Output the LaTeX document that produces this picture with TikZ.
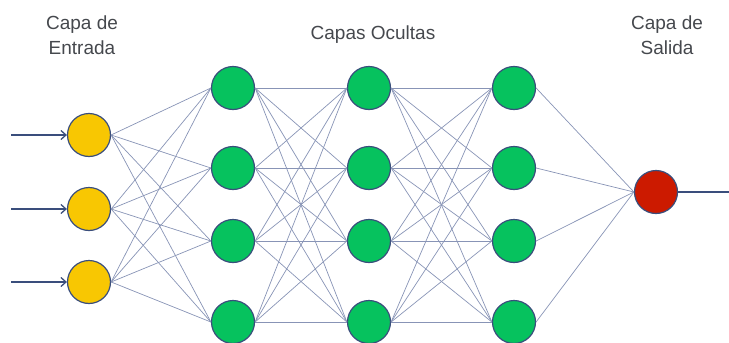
\documentclass[tikz,border=0pt]{standalone}
\usepackage{fontspec}
\setmainfont{Liberation Sans}
\usetikzlibrary{arrows.meta, positioning}
\definecolor{inyellow}{HTML}{F8C702}
\definecolor{hidgreen}{HTML}{06C25E}
\definecolor{outred}{HTML}{CC1A00}
\definecolor{rim}{HTML}{3A4E7C}
\definecolor{wire}{HTML}{8894B6}
\definecolor{labelgray}{HTML}{45484D}
\tikzset{
  neuron/.style={
    circle, draw=rim, line width=1.2pt, minimum size=43pt, inner sep=0pt
  },
  input/.style={neuron, fill=inyellow},
  hidden/.style={neuron, fill=hidgreen},
  output/.style={neuron, fill=outred},
  link/.style={draw=wire, line width=0.7pt},
  feed/.style={-{Straight Barb[length=5pt,width=9pt]}, draw=rim, line width=1.3pt},
  title/.style={font=\fontsize{19}{25}\selectfont, text=labelgray, align=center}
}

\begin{document}
\begin{tikzpicture}[x=1pt, y=-1pt]
    \useasboundingbox (0,0) rectangle (729,343);
    \node[title] (intitle) at (82,35) {Capa de\\Entrada};
    \node[title] (hidtitle) at (373,35) {Capas Ocultas};
    \node[title] (outtitle) at (667,35) {Capa de\\Salida};
    % layers
    \foreach \i/\y in {1/135, 2/209, 3/282}
      \node[input] (in\i) at (89,\y) {};
    \foreach \l/\x in {1/233, 2/369, 3/514}
      \foreach \i/\y in {1/88, 2/168, 3/241, 4/322}
        \node[hidden] (h\l\i) at (\x,\y) {};
    \node[output] (out) at (656,192) {};
    % connections
    \foreach \i in {1,...,3}
      \foreach \j in {1,...,4}
        \draw[link] (in\i.east) -- (h1\j.west);
    \foreach \l/\m in {1/2, 2/3}
      \foreach \i in {1,...,4}
        \foreach \j in {1,...,4}
          \draw[link] (h\l\i.east) -- (h\m\j.west);
    \foreach \i in {1,...,4}
      \draw[link] (h3\i.east) -- (out.west);
    % signal in and out
    \foreach \i/\y in {1/135, 2/209, 3/282} {
      \coordinate (src\i) at (11,\y);
      \draw[feed] (src\i) -- (in\i.west);
    }
    \coordinate (sink) at (729,192);
    \draw[rim, line width=1.2pt] (out.east) -- (sink);
\end{tikzpicture}
\end{document}
